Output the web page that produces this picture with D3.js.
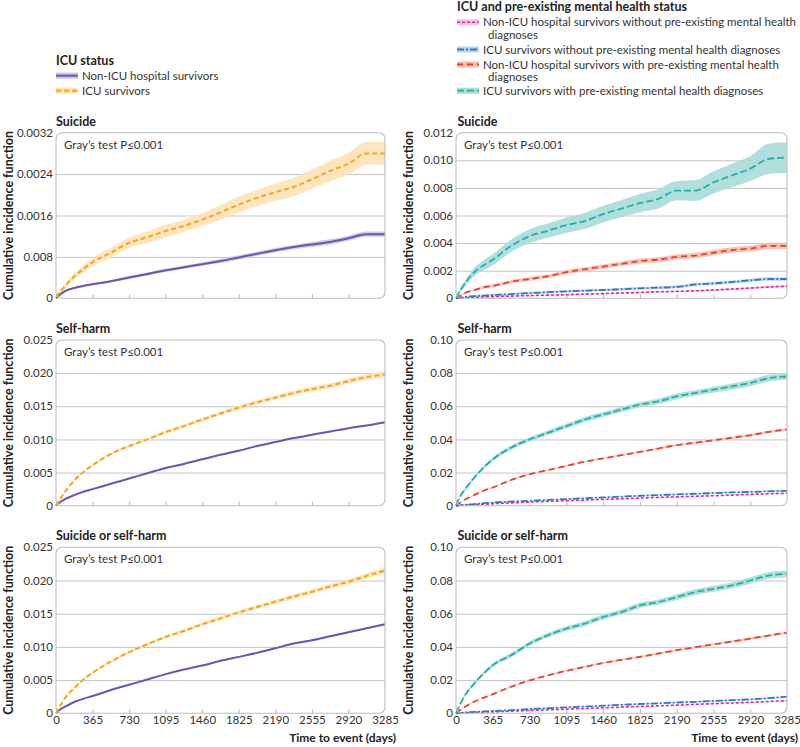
<!DOCTYPE html>
<html><head><meta charset="utf-8">
<script src="https://cdn.jsdelivr.net/npm/d3@7"></script>
<style>
body{margin:0;background:#fff;}
text{font-family:Lato,sans-serif;}
</style></head>
<body><svg id="c" width="800" height="747"></svg>
<script>
// ---------- DATA ----------
const days = [0,45,91,182,274,365,547,730,912,1095,1277,1460,1642,1825,2007,2190,2372,2555,2737,2920,3102,3285];
const xTicks = [0,365,730,1095,1460,1825,2190,2555,2920,3285];

// Left column: ICU status
const suicide_nonICU = [0,0.00008,0.00014,0.0002,0.00024,0.00027,0.00033,0.0004,0.00047,0.00054,0.0006,0.00066,0.00072,0.00079,0.00086,0.00093,0.00099,0.00104,0.00109,0.00116,0.00124,0.00124];
const suicide_nonICU_ci = [0,0.00001,0.00001,0.00002,0.00002,0.00002,0.00002,0.00003,0.00003,0.00003,0.00003,0.00003,0.00004,0.00004,0.00004,0.00004,0.00004,0.00005,0.00005,0.00005,0.00005,0.00005];
const suicide_ICU = [0.00003,0.00013,0.00024,0.00042,0.00057,0.0007,0.00088,0.00107,0.00118,0.0013,0.0014,0.00152,0.00166,0.00181,0.00194,0.00205,0.00215,0.0023,0.00246,0.0026,0.0028,0.0028];
const suicide_ICU_ci = [0.00002,0.00004,0.00005,0.00006,0.00007,0.00008,0.00009,0.0001,0.00011,0.00012,0.00012,0.00013,0.00014,0.00015,0.00016,0.00017,0.00018,0.00019,0.0002,0.00021,0.00022,0.00022];

const harm_nonICU = [0,0.0006,0.001,0.0016,0.0021,0.0025,0.0033,0.0041,0.0049,0.0057,0.0063,0.007,0.0077,0.0083,0.009,0.0096,0.0102,0.0107,0.0112,0.0117,0.0121,0.0126];
const harm_nonICU_ci = [0,0.00005,0.00005,0.00005,0.00006,0.00006,0.00006,0.00007,0.00007,0.00007,0.00008,0.00008,0.00008,0.00009,0.00009,0.00009,0.0001,0.0001,0.0001,0.00011,0.00011,0.00012];
const harm_ICU = [0,0.0011,0.0021,0.0038,0.0051,0.0061,0.0078,0.009,0.01,0.0111,0.012,0.013,0.0139,0.0148,0.0156,0.0163,0.017,0.0176,0.0181,0.0188,0.0194,0.0198];
const harm_ICU_ci = [0,0.0001,0.00012,0.00015,0.00017,0.00018,0.0002,0.00022,0.00023,0.00024,0.00025,0.00026,0.00027,0.00028,0.0003,0.00031,0.00033,0.00035,0.00037,0.0004,0.00043,0.00045];

const either_nonICU = [0,0.0006,0.001,0.0017,0.0022,0.0026,0.0035,0.0043,0.0051,0.0059,0.0066,0.0072,0.0079,0.0085,0.0091,0.0098,0.0105,0.011,0.0116,0.0122,0.0128,0.0134];
const either_nonICU_ci = harm_nonICU_ci;
const either_ICU = [0,0.0012,0.0023,0.0038,0.0051,0.0061,0.0078,0.0092,0.0104,0.0115,0.0124,0.0134,0.0143,0.0152,0.016,0.0168,0.0176,0.0183,0.0191,0.0198,0.0207,0.0215];
const either_ICU_ci = harm_ICU_ci;

// Right column: ICU and pre-existing mental health status
const rSuicide_nonICU_noMH = [0,0.00002,0.00004,0.00007,0.0001,0.00012,0.00016,0.0002,0.00023,0.00026,0.0003,0.00034,0.00038,0.00042,0.00047,0.0005,0.00054,0.0006,0.00067,0.00074,0.00082,0.00087];
const rSuicide_ICU_noMH = [0,0.00005,0.0001,0.00016,0.0002,0.00024,0.0003,0.00038,0.00044,0.0005,0.00055,0.0006,0.00066,0.00072,0.00077,0.00082,0.001,0.00108,0.00118,0.0013,0.0014,0.0014];
const rSuicide_nonICU_MH = [0,0.0002,0.0004,0.0006,0.0008,0.0009,0.0012,0.0014,0.0016,0.0019,0.0021,0.0023,0.0025,0.0027,0.0028,0.003,0.0031,0.0033,0.0035,0.0036,0.0038,0.0038];
const rSuicide_ICU_MH = [0,0.0006,0.0011,0.0019,0.0024,0.0028,0.0038,0.0045,0.0049,0.0053,0.0056,0.0061,0.0065,0.0069,0.0072,0.0078,0.0078,0.0084,0.0089,0.0094,0.0101,0.0102];
const rSuicide_ci = [
  [0,0.00002,0.00002,0.00002,0.00003,0.00003,0.00003,0.00003,0.00003,0.00004,0.00004,0.00004,0.00004,0.00004,0.00005,0.00005,0.00005,0.00005,0.00006,0.00006,0.00007,0.00007],
  [0,0.00003,0.00004,0.00005,0.00005,0.00006,0.00006,0.00007,0.00007,0.00008,0.00008,0.00008,0.00009,0.00009,0.0001,0.0001,0.0001,0.00011,0.00011,0.00012,0.00012,0.00012],
  [0,0.00005,0.00007,0.00008,0.0001,0.0001,0.00011,0.00012,0.00013,0.00014,0.00015,0.00015,0.00016,0.00017,0.00018,0.00018,0.00019,0.0002,0.0002,0.00021,0.00022,0.00022],
  [0,0.00015,0.0002,0.0003,0.00035,0.0004,0.00045,0.0005,0.00052,0.00055,0.00058,0.0006,0.00063,0.00066,0.0007,0.0007,0.00075,0.0008,0.00085,0.0009,0.0011,0.0011]
];

const rHarm_nonICU_noMH = [0,0.0002,0.0003,0.0006,0.0009,0.0012,0.0017,0.0022,0.0026,0.003,0.0034,0.0038,0.0042,0.0046,0.005,0.0053,0.0057,0.006,0.0064,0.0068,0.0072,0.0075];
const rHarm_ICU_noMH = [0,0.0003,0.0006,0.001,0.0015,0.0019,0.0025,0.003,0.0035,0.004,0.0045,0.005,0.0055,0.006,0.0064,0.0068,0.0072,0.0076,0.008,0.0083,0.0087,0.009];
const rHarm_nonICU_MH = [0,0.002,0.0037,0.0065,0.009,0.011,0.0155,0.019,0.0215,0.024,0.0265,0.0285,0.0305,0.0325,0.0345,0.0365,0.038,0.0395,0.041,0.0425,0.0445,0.046];
const rHarm_ICU_MH = [0,0.006,0.01,0.017,0.023,0.028,0.035,0.04,0.044,0.048,0.052,0.055,0.058,0.061,0.063,0.066,0.068,0.07,0.072,0.074,0.077,0.078];
const rHarm_ci = [
  [0,0.0001,0.0001,0.0001,0.0001,0.0001,0.0001,0.0001,0.0001,0.0001,0.0001,0.0001,0.0001,0.0001,0.0001,0.0002,0.0002,0.0002,0.0002,0.0002,0.0002,0.0002],
  [0,0.0001,0.0002,0.0002,0.0002,0.0002,0.0002,0.0002,0.0003,0.0003,0.0003,0.0003,0.0003,0.0003,0.0003,0.0003,0.0003,0.0004,0.0004,0.0004,0.0004,0.0004],
  [0,0.0002,0.0003,0.0003,0.0003,0.0004,0.0004,0.0004,0.0004,0.0005,0.0005,0.0005,0.0005,0.0005,0.0006,0.0006,0.0006,0.0006,0.0006,0.0007,0.0007,0.0007],
  [0,0.0006,0.0008,0.001,0.0011,0.0012,0.0013,0.0013,0.0014,0.0014,0.0015,0.0015,0.0015,0.0016,0.0016,0.0017,0.0017,0.0018,0.0018,0.0019,0.002,0.002]
];

const rEither_nonICU_noMH = [0,0.0002,0.0003,0.0005,0.0007,0.0009,0.0013,0.0017,0.0021,0.0025,0.0029,0.0033,0.0037,0.0041,0.0045,0.0049,0.0054,0.0058,0.0062,0.0066,0.0071,0.0076];
const rEither_ICU_noMH = [0,0.0003,0.0005,0.0008,0.0011,0.0014,0.0019,0.0025,0.0031,0.0036,0.0041,0.0046,0.0051,0.0056,0.006,0.0065,0.0069,0.0074,0.0079,0.0084,0.0091,0.01];
const rEither_nonICU_MH = [0,0.0022,0.004,0.007,0.0093,0.0115,0.016,0.0198,0.0228,0.0256,0.028,0.0303,0.0322,0.034,0.036,0.038,0.0398,0.0415,0.0432,0.045,0.0468,0.0486];
const rEither_ICU_MH = [0,0.006,0.011,0.018,0.024,0.029,0.035,0.042,0.047,0.051,0.054,0.058,0.061,0.065,0.067,0.07,0.073,0.075,0.077,0.08,0.083,0.084];
const rEither_ci = rHarm_ci;

const yTicksA = [0,0.0008,0.0016,0.0024,0.0032];
const yLabelsA = ["0","0.008","0.0016","0.0024","0.0032"];
const yTicksB = [0,0.005,0.010,0.015,0.020,0.025];
const yLabelsB = ["0","0.005","0.010","0.015","0.020","0.025"];
const yTicksC = [0,0.002,0.004,0.006,0.008,0.010,0.012];
const yLabelsC = ["0","0.002","0.004","0.006","0.008","0.010","0.012"];
const yTicksD = [0,0.02,0.04,0.06,0.08,0.10];
const yLabelsD = ["0","0.02","0.04","0.06","0.08","0.10"];

const leftNames = ["Non-ICU hospital survivors","ICU survivors"];
const rightNames = [
  ["Non-ICU hospital survivors without pre-existing mental health","diagnoses"],
  ["ICU survivors without pre-existing mental health diagnoses"],
  ["Non-ICU hospital survivors with pre-existing mental health","diagnoses"],
  ["ICU survivors with pre-existing mental health diagnoses"]
];
const panelTitles = ["Suicide","Self-harm","Suicide or self-harm"];
const testText = "Gray\u2019s test P\u22640.001";

// ---------- STYLE ----------
const FS = "11.5px";
const leftStyles = [
  {color:"#6a55b3", band:"#cbc3e6", dash:null, w:2},
  {color:"#f7a51c", band:"#fde3b6", dash:"5,3", w:2}
];
const rightStyles = [
  {color:"#de2a97", band:"#f6c0e0", dash:"3,2", w:1.6},
  {color:"#2b78cf", band:"#bcd5f0", dash:"7,2,2,2", w:1.8},
  {color:"#ea3f35", band:"#f7bcaa", dash:"6,4", w:1.8},
  {color:"#1eb2ab", band:"#a9dcd9", dash:"7,3", w:1.8}
];

const svg = d3.select("#c");
const colX = [[56,385],[456,787]];
const rowY = [[132.7,298.3],[340,505.7],[547.3,713.3]];

function panel(col,row,yTicks,yLabels,series,cis,styles){
  const [x0,x1]=colX[col],[y0,y1]=rowY[row];
  const x=d3.scaleLinear().domain([0,3285]).range([x0,x1]);
  const y=d3.scaleLinear().domain([yTicks[0],yTicks[yTicks.length-1]]).range([y1,y0]);
  const g=svg.append("g");
  g.append("g").attr("transform",`translate(${x0},0)`)
    .call(d3.axisLeft(y).tickValues(yTicks.slice(1,-1)).tickSize(-(x1-x0)).tickFormat(""))
    .call(a=>{a.select(".domain").remove();a.selectAll("line").attr("stroke","#c4c4c4").attr("stroke-width",1);});
  g.append("g").attr("transform",`translate(0,${y1})`)
    .call(d3.axisTop(x).tickValues(xTicks.slice(1,-1)).tickSize(4).tickFormat(""))
    .call(a=>{a.select(".domain").remove();a.selectAll("line").attr("stroke","#b8b8b8");});
  series.forEach((s,i)=>{
    const area=d3.area().x((d,j)=>x(days[j])).y0((d,j)=>y(Math.max(0,s[j]-cis[i][j]))).y1((d,j)=>y(s[j]+cis[i][j])).curve(d3.curveMonotoneX);
    g.append("path").attr("d",area(s)).attr("fill",styles[i].band).attr("opacity",0.9);
  });
  series.forEach((s,i)=>{
    const line=d3.line().x((d,j)=>x(days[j])).y((d,j)=>y(d)).curve(d3.curveMonotoneX);
    g.append("path").attr("d",line(s)).attr("fill","none").attr("stroke",styles[i].color)
      .attr("stroke-width",styles[i].w).attr("stroke-dasharray",styles[i].dash);
  });
  g.append("rect").attr("x",x0).attr("y",y0).attr("width",x1-x0).attr("height",y1-y0)
    .attr("rx",6).attr("fill","none").attr("stroke","#bdbdbd").attr("stroke-width",1.1);
  g.append("g").attr("transform",`translate(${x0-3},0)`)
    .call(d3.axisLeft(y).tickValues(yTicks).tickSize(0).tickPadding(0).tickFormat((d,i)=>yLabels[i]))
    .call(a=>{a.select(".domain").remove();a.selectAll("text").attr("font-size",FS).attr("fill","#333").attr("font-family","Lato");});
  if(row===2){
    g.append("g").attr("transform",`translate(0,${y1+3})`)
      .call(d3.axisBottom(x).tickValues(xTicks).tickSize(0).tickPadding(0).tickFormat(d3.format("d")))
      .call(a=>{a.select(".domain").remove();a.selectAll("text").attr("font-size",FS).attr("fill","#333").attr("font-family","Lato");});
    g.append("text").attr("x",x1+11).attr("y",742).attr("text-anchor","end")
      .attr("font-size","12px").attr("font-weight","bold").attr("fill","#222").text("Time to event (days)");
  }
  g.append("text").attr("x",x0+(col?1.5:0)).attr("y",y0-7).attr("font-size","12.5px").attr("font-weight","bold").attr("fill","#222").text(panelTitles[row]);
  g.append("text").attr("x",x0+8).attr("y",y0+16).attr("font-size",FS).attr("fill","#333").text(testText);
  const cx = col?408:8, cy=(y0+y1)/2;
  g.append("text").attr("transform",`translate(${cx+4.5},${cy}) rotate(-90)`).attr("text-anchor","middle")
    .attr("font-size","12.5px").attr("font-weight","bold").attr("fill","#222").text("Cumulative incidence function");
}

panel(0,0,yTicksA,yLabelsA,[suicide_nonICU,suicide_ICU],[suicide_nonICU_ci,suicide_ICU_ci],leftStyles);
panel(0,1,yTicksB,yLabelsB,[harm_nonICU,harm_ICU],[harm_nonICU_ci,harm_ICU_ci],leftStyles);
panel(0,2,yTicksB,yLabelsB,[either_nonICU,either_ICU],[either_nonICU_ci,either_ICU_ci],leftStyles);
panel(1,0,yTicksC,yLabelsC,[rSuicide_nonICU_noMH,rSuicide_ICU_noMH,rSuicide_nonICU_MH,rSuicide_ICU_MH],rSuicide_ci,rightStyles);
panel(1,1,yTicksD,yLabelsD,[rHarm_nonICU_noMH,rHarm_ICU_noMH,rHarm_nonICU_MH,rHarm_ICU_MH],rHarm_ci,rightStyles);
panel(1,2,yTicksD,yLabelsD,[rEither_nonICU_noMH,rEither_ICU_noMH,rEither_nonICU_MH,rEither_ICU_MH],rEither_ci,rightStyles);

// ---------- LEGENDS ----------
function swatch(x,yc,st){
  svg.append("rect").attr("x",x).attr("y",yc-3).attr("width",22).attr("height",6).attr("fill",st.band);
  svg.append("line").attr("x1",x).attr("x2",x+22).attr("y1",yc).attr("y2",yc).attr("stroke",st.color)
    .attr("stroke-width",st.w).attr("stroke-dasharray",st.dash);
}
svg.append("text").attr("x",56).attr("y",64.5).attr("font-size","12.5px").attr("font-weight","bold").attr("fill","#222").text("ICU status");
[75.7,90.7].forEach((yc,i)=>{
  swatch(56,yc,leftStyles[i]);
  svg.append("text").attr("x",82).attr("y",yc+4).attr("font-size",FS).attr("fill","#333").text(leftNames[i]);
});
svg.append("text").attr("x",457).attr("y",11).attr("font-size","12.5px").attr("font-weight","bold").attr("fill","#222").text("ICU and pre-existing mental health status");
const rY=[22.3,49.5,64.5,90.7];
rightNames.forEach((lines,i)=>{
  swatch(457,rY[i],rightStyles[i]);
  lines.forEach((t,k)=>{
    svg.append("text").attr("x",k?488:483).attr("y",rY[i]+4+k*12.5).attr("font-size",FS).attr("fill","#333").text(t);
  });
});
</script></body></html>
